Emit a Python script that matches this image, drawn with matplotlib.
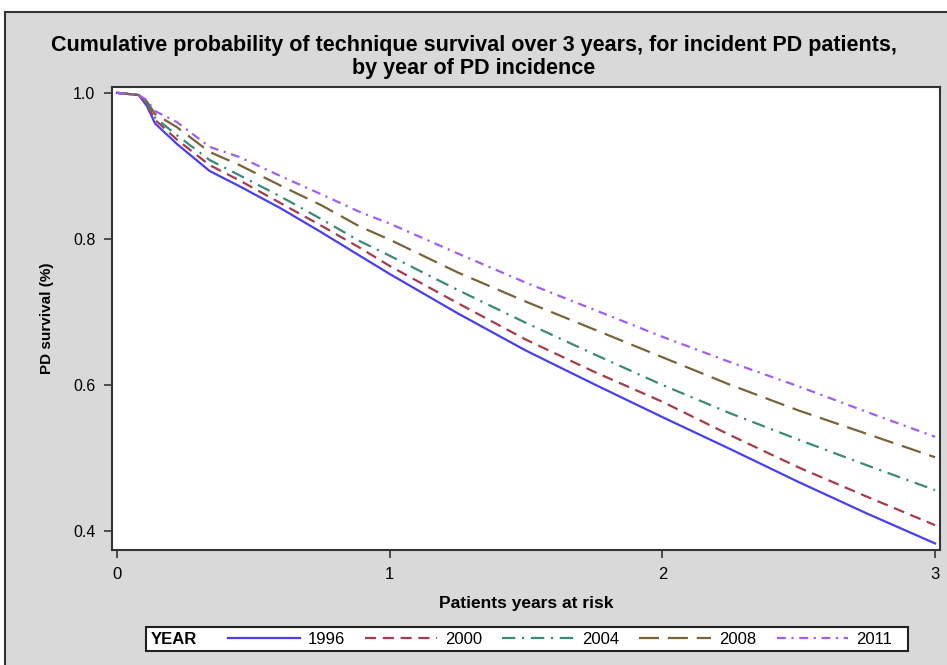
import numpy as np
import matplotlib.pyplot as plt
from matplotlib.patches import Rectangle
from matplotlib.lines import Line2D

# years at risk where the curves were read
years_at_risk = [0, 0.08, 0.11, 0.14, 0.22, 0.34, 0.45, 0.6, 0.75, 0.89, 1.0,
                 1.25, 1.5, 1.75, 2.0, 2.25, 2.5, 2.75, 3.0]

surv_1996 = [1.0, 0.997, 0.982, 0.958, 0.930, 0.893, 0.872, 0.842, 0.809, 0.777, 0.752,
             0.698, 0.647, 0.601, 0.556, 0.512, 0.467, 0.424, 0.383]
surv_2000 = [1.0, 0.997, 0.985, 0.963, 0.936, 0.901, 0.880, 0.849, 0.818, 0.788, 0.763,
             0.712, 0.662, 0.618, 0.577, 0.531, 0.487, 0.447, 0.408]
surv_2004 = [1.0, 0.997, 0.986, 0.966, 0.942, 0.908, 0.887, 0.858, 0.827, 0.797, 0.777,
             0.730, 0.685, 0.642, 0.600, 0.561, 0.525, 0.490, 0.456]
surv_2008 = [1.0, 0.997, 0.988, 0.971, 0.953, 0.919, 0.901, 0.873, 0.846, 0.817, 0.799,
             0.754, 0.714, 0.676, 0.638, 0.600, 0.565, 0.533, 0.501]
surv_2011 = [1.0, 0.997, 0.990, 0.975, 0.960, 0.926, 0.912, 0.886, 0.861, 0.837, 0.821,
             0.780, 0.740, 0.703, 0.666, 0.631, 0.598, 0.563, 0.529]

years = ['1996', '2000', '2004', '2008', '2011']
curves = [surv_1996, surv_2000, surv_2004, surv_2008, surv_2011]
colors = ['#4a3ff0', '#a83a4c', '#3a8a78', '#7a6338', '#a25ef0']
dashes = [None, (5, 3), (6, 3, 1, 3), (9, 4), (4, 2.5, 1, 2.5)]

x_ticks = [0, 1, 2, 3]
y_ticks = [0.4, 0.6, 0.8, 1.0]

narrow = ['Liberation Sans Narrow', 'Liberation Sans', 'DejaVu Sans']
plt.rcParams['font.family'] = ['Liberation Sans', 'DejaVu Sans']

fig = plt.figure(figsize=(9.47, 6.65), dpi=100)
fig.patch.set_facecolor('white')
# grey panel with dark border
fig.patches.append(Rectangle((5 / 947, -0.01), 1.0, (665 - 12) / 665 + 0.01,
                             transform=fig.transFigure, facecolor='#d9d9d9',
                             edgecolor='#333333', linewidth=1.5, zorder=-5))

ax = fig.add_axes([112 / 947, 1 - 550 / 665, 828 / 947, 463 / 665])
ax.set_zorder(2)
ax.set_facecolor('white')

for yr, s, c, d in zip(years, curves, colors, dashes):
    line, = ax.plot(years_at_risk, s, color=c, lw=1.6, label=yr)
    if d is not None:
        line.set_dashes(d)

ax.set_xlim(-0.018, 3.018)
ax.set_ylim(0.374, 1.008)
ax.set_xticks(x_ticks)
ax.set_xticklabels([str(t) for t in x_ticks], family=narrow, fontsize=12)
ax.set_yticks(y_ticks)
ax.set_yticklabels([f'{t:.1f}' for t in y_ticks], fontsize=11.5)
ax.tick_params(direction='out', length=6, width=1.2, color='#333333', pad=6)
for sp in ax.spines.values():
    sp.set_color('#333333')
    sp.set_linewidth(1.5)

ax.set_xlabel('Patients years at risk', family=narrow, fontsize=12.5,
              fontweight='bold', labelpad=10)
ax.set_ylabel('PD survival (%)', fontsize=11, fontweight='bold', labelpad=14)

fig.suptitle('Cumulative probability of technique survival over 3 years, for incident PD patients,\n'
             'by year of PD incidence', family=narrow, fontsize=15.5,
             fontweight='bold', y=1 - 35 / 665, va='top', linespacing=1.12)

# legend box with YEAR header
fig.patches.append(Rectangle((146 / 947, 1 - 651 / 665), 762 / 947, 24 / 665,
                             transform=fig.transFigure, facecolor='white',
                             edgecolor='#222222', linewidth=1.5, zorder=1))
fig.text(151 / 947, 1 - 639 / 665, 'YEAR', family=narrow, fontsize=12,
         fontweight='bold', va='center', ha='left', zorder=3)
handles = []
for yr, c, d in zip(years, colors, dashes):
    h = Line2D([], [], color=c, lw=1.6)
    if d is not None:
        h.set_dashes(d)
    handles.append(h)
leg = fig.legend(handles, years, loc='center left',
                 bbox_to_anchor=(228 / 947, 1 - 639 / 665), ncol=5, frameon=False,
                 prop={'family': narrow, 'size': 12}, handlelength=4.3,
                 handletextpad=0.5, columnspacing=1.2, borderaxespad=0,
                 borderpad=0)
leg.set_zorder(3)

fig.savefig('out.png', dpi=100)
